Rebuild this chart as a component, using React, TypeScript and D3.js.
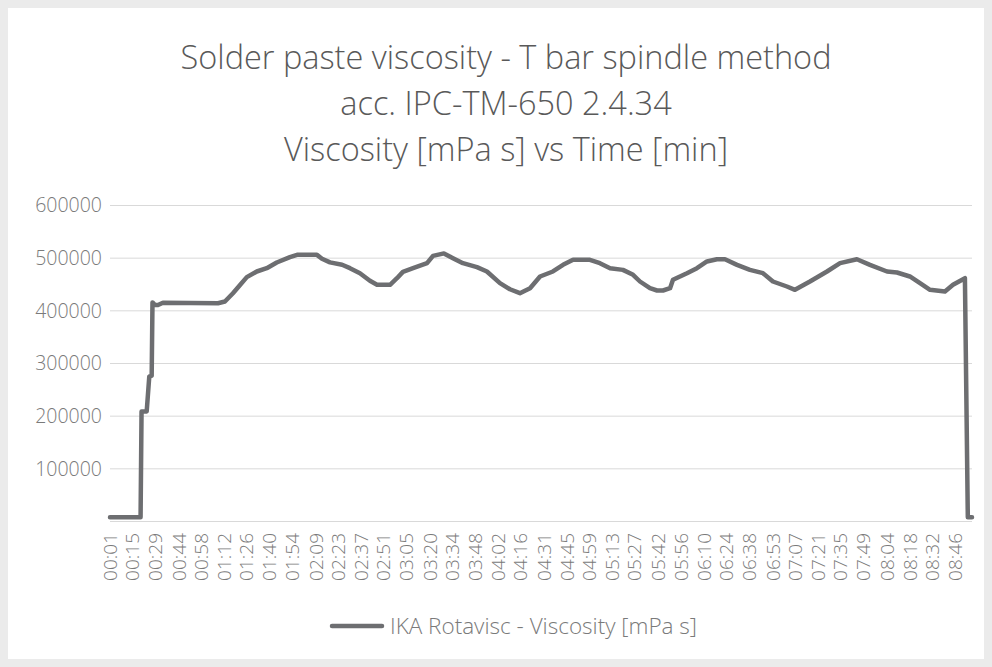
import React from 'react';
import * as d3 from 'd3';

// viscosity curve, time in seconds and viscosity in mPa s
const times = [
  1, 20, 20.6, 23.8, 25.4, 26.9, 27.4, 29, 30.8, 33.9, 68.1, 72.4, 77.4, 81.8, 86, 92.2, 98.4, 104.6,
  112.8, 117.2, 129.6, 132.7, 137.7, 145.2, 150.1, 156.3, 162.5, 166.9, 175, 179.3, 183, 189.3, 198,
  201.7, 208.5, 214.1, 220.3, 229, 235.2, 243.3, 249.5, 255.7, 262, 268.2, 276.2, 282.5, 288.7, 299.2,
  305.4, 311.7, 319.7, 326, 330.3, 336.5, 340.9, 344.6, 349, 350.8, 359.5, 365.7, 371.9, 378.1, 383.1,
  390.6, 398.6, 406.7, 412.9, 421.6, 426.6, 435.9, 446.5, 454.6, 465.1, 473.2, 483.8, 490, 498, 504.3,
  510.5, 519.8, 524.8, 532.2, 534, 536.6
];
const viscosity = [
  8000, 8000, 209000, 209000, 275000, 277000, 416000, 411000, 411000, 415500, 414500, 417700, 433500, 449000, 464000, 474700, 481000, 491800,
  502000, 506300, 506300, 499000, 492000, 487500, 481000, 471500, 457000, 449500, 449500, 462000, 474000, 481000, 490500,
  504400, 509000, 500000, 490500, 483000, 474700, 452500, 441000, 433500, 443000, 465200, 474700, 487300, 496800, 496800,
  490500, 481000, 477800, 468400, 455700, 443000, 438600, 438600, 443000, 458900, 471500, 481000, 493700, 498000, 498000,
  487300, 477800, 471500, 455700, 446200, 439900, 455700, 474700, 490500, 498000, 487300, 474700, 472800, 465200, 452500,
  439900, 436700, 449400, 462000, 8000, 8000
];

const xLabels = [
  '00:01', '00:15', '00:29', '00:44', '00:58', '01:12', '01:26', '01:40', '01:54', '02:09', '02:23', '02:37',
  '02:51', '03:05', '03:20', '03:34', '03:48', '04:02', '04:16', '04:31', '04:45', '04:59', '05:13', '05:27',
  '05:42', '05:56', '06:10', '06:24', '06:38', '06:53', '07:07', '07:21', '07:35', '07:49', '08:04', '08:18',
  '08:32', '08:46'
];
const yTicks = [0, 100000, 200000, 300000, 400000, 500000, 600000];

const titleLines = ['Solder paste viscosity - T bar spindle method', 'acc. IPC-TM-650 2.4.34', 'Viscosity [mPa s] vs Time [min]'];
const seriesName = 'IKA Rotavisc - Viscosity [mPa s]';

const W = 992;
const H = 667;
const font = '"Open Sans", "Noto Sans", sans-serif';
const lineColor = '#6d6e71';
const textColor = '#7a7a7a';

const toSec = (s: string) => {
  const [m, sec] = s.split(':').map(Number);
  return m * 60 + sec;
};

export default function App() {
  const x = d3.scaleLinear().domain([1, 536.6]).range([110, 972]);
  const y = d3.scaleLinear().domain([0, 600000]).range([521.5, 205.5]);

  const pts = times.map((t, i) => [t, viscosity[i]] as [number, number]);
  const line = d3.line<[number, number]>()
    .x(d => x(d[0]))
    .y(d => y(d[1]));

  return (
    <svg width={W} height={H} style={{ position: 'absolute', left: 0, top: 0 }} fontFamily={font}>
      <rect width={W} height={H} fill="#ebebeb" />
      <rect x={8} y={8} width={976} height={651} fill="#ffffff" />

      {/* title */}
      {titleLines.map((t, i) => (
        <text key={t} x={506} y={69 + i * 46} textAnchor="middle" fontSize={32.5} fontWeight={300} fill="#595959">
          {t}
        </text>
      ))}

      {/* grid */}
      {yTicks.map(v => (
        <g key={v}>
          <line x1={110} x2={972} y1={y(v)} y2={y(v)} stroke="#d9d9d9" strokeWidth={1} />
          {v > 0 && (
            <text x={102} y={y(v)} dy="0.35em" textAnchor="end" fontSize={19.5} fontWeight={300} fill={textColor}>
              {v}
            </text>
          )}
        </g>
      ))}

      {/* x labels */}
      {xLabels.map(l => {
        const px = x(toSec(l));
        return (
          <text key={l} transform={`translate(${px},533) rotate(-90)`} textAnchor="end" dy="0.35em"
            fontSize={19} fontWeight={300} fill={textColor}>
            {l}
          </text>
        );
      })}

      <path d={line(pts) || ''} fill="none" stroke={lineColor} strokeWidth={4.5} strokeLinejoin="round" strokeLinecap="round" />

      {/* legend */}
      <line x1={332} x2={382} y1={626} y2={626} stroke={lineColor} strokeWidth={4.5} strokeLinecap="round" />
      <text x={390} y={626} dy="0.35em" fontSize={22.5} fontWeight={300} fill={textColor}>{seriesName}</text>
    </svg>
  );
}
